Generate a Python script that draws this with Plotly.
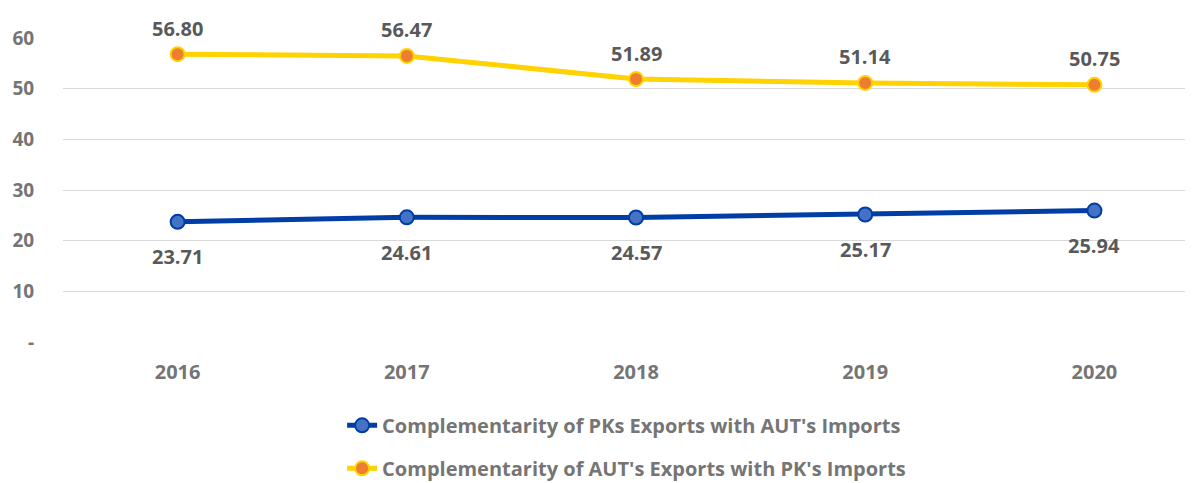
import plotly.graph_objects as go

years = ["2016", "2017", "2018", "2019", "2020"]
pk_exports = [23.71, 24.61, 24.57, 25.17, 25.94]
aut_exports = [56.80, 56.47, 51.89, 51.14, 50.75]
name_pk = "Complementarity of PKs Exports with AUT's Imports"
name_aut = "Complementarity of AUT's Exports with PK's Imports"
y_ticks = [0, 10, 20, 30, 40, 50, 60]
y_ticktext = ["-", "10", "20", "30", "40", "50", "60"]

FONT = "Open Sans"
GREY = "#757575"
LABEL = "#595959"

fig = go.Figure()
fig.add_trace(go.Scatter(
    x=years, y=pk_exports, name=name_pk, mode="lines+markers",
    line=dict(color="#003DA5", width=5),
    marker=dict(size=14, color="#4472C4", line=dict(color="#003DA5", width=2)),
    legendgroup="a", cliponaxis=False,
))
fig.add_trace(go.Scatter(
    x=years, y=aut_exports, name=name_aut, mode="lines+markers",
    line=dict(color="#FFD200", width=5),
    marker=dict(size=14, color="#ED7D31", line=dict(color="#FFD200", width=2)),
    legendgroup="b", cliponaxis=False,
))

for i, yv in enumerate(pk_exports):
    fig.add_annotation(x=i, y=yv, xref="x", yref="y", text=f"{yv:.2f}", showarrow=False,
                       yshift=-35, font=dict(family=FONT, size=20, color=LABEL, weight="bold"))
for i, yv in enumerate(aut_exports):
    fig.add_annotation(x=i, y=yv, xref="x", yref="y", text=f"{yv:.2f}", showarrow=False,
                       yshift=26, font=dict(family=FONT, size=20, color=LABEL, weight="bold"))

# page body has an 8px margin, so the figure is offset by (8, 8)
fig.update_layout(
    width=1185, height=475,
    margin=dict(l=55, r=0, t=30, b=141, autoexpand=False),
    paper_bgcolor="white", plot_bgcolor="white",
    font=dict(family=FONT, color=GREY, size=19, weight="bold"),
    showlegend=True,
    legend=dict(orientation="v", x=0.247, xanchor="left", y=-0.21, yanchor="top",
                traceorder="grouped", tracegroupgap=14,
                font=dict(family=FONT, size=20, color=GREY, weight="bold"),
                itemwidth=30),
)
fig.update_xaxes(type="category", range=[-0.5, 4.43], showgrid=False, showline=False,
                 ticks="outside", ticklen=12, tickcolor="rgba(0,0,0,0)",
                 tickfont=dict(family=FONT, size=20, color=GREY, weight="bold"))
fig.update_yaxes(range=[0, 60], tickvals=y_ticks, ticktext=y_ticktext,
                 showgrid=True, gridcolor="#D9D9D9", gridwidth=1.3,
                 zeroline=False, showline=False,
                 ticks="outside", ticklen=24, tickcolor="rgba(0,0,0,0)",
                 tickfont=dict(family=FONT, size=19, color=GREY, weight="bold"))

fig.write_html("out.html")
